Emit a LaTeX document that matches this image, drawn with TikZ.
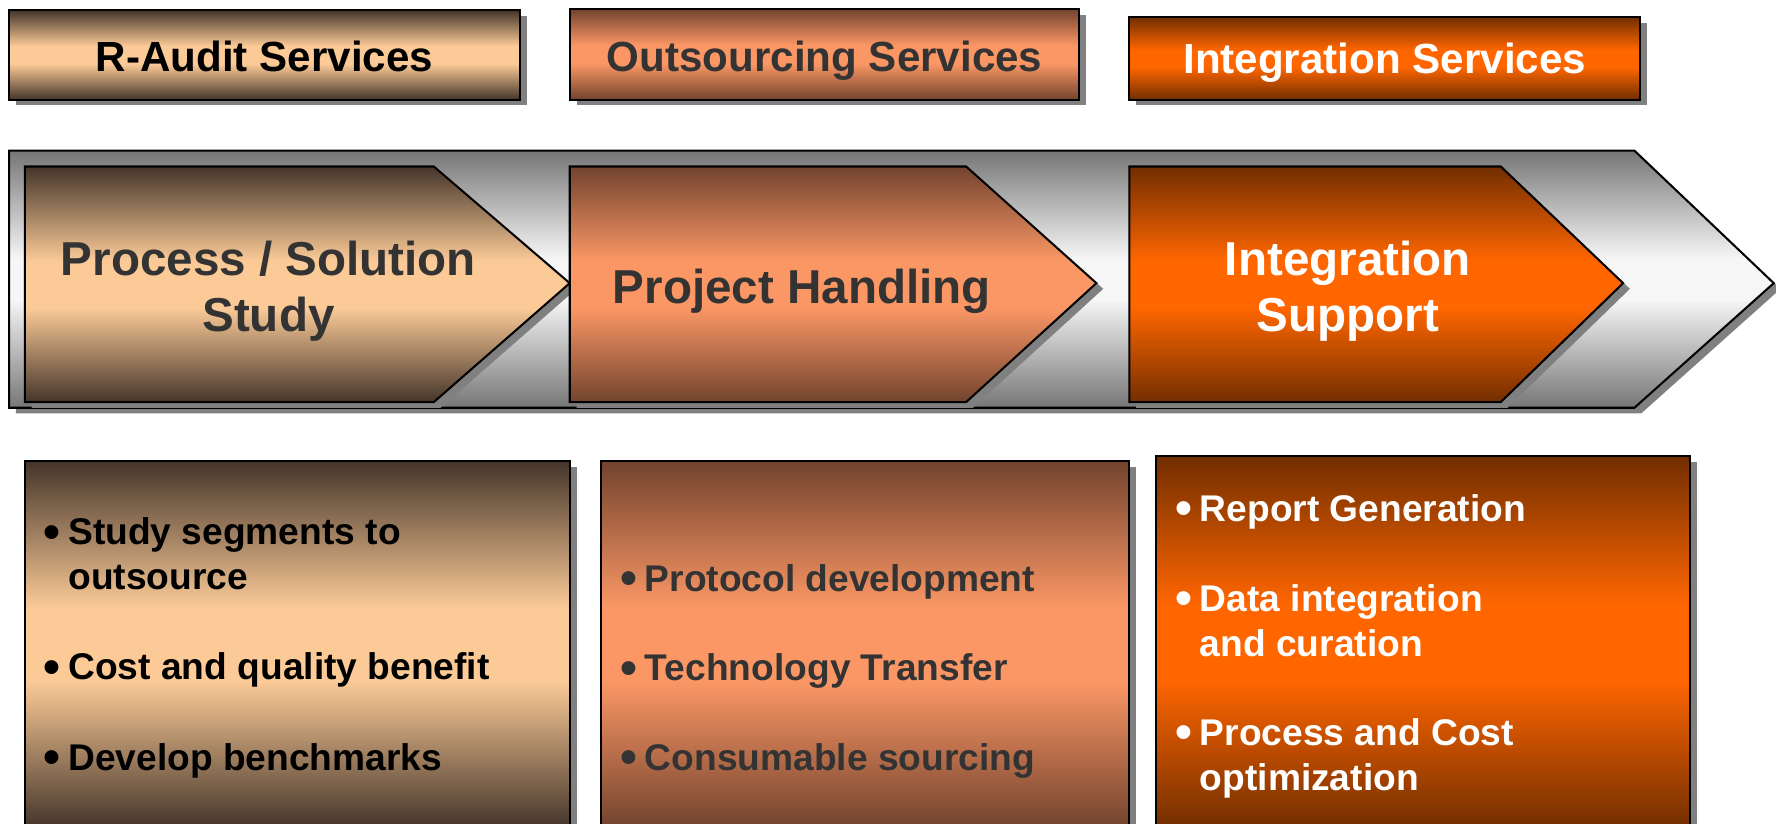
\documentclass[tikz,border=0pt]{standalone}
\usepackage{fontspec}
\setmainfont{Liberation Sans}
\usetikzlibrary{shadows}
\definecolor{raD}{HTML}{44352A}
\definecolor{raL}{HTML}{FBCA97}
\definecolor{osD}{HTML}{72432E}
\definecolor{osL}{HTML}{FB9765}
\definecolor{isD}{HTML}{722E00}
\definecolor{isL}{HTML}{FF6600}
\definecolor{gbD}{HTML}{767676}
\definecolor{gbL}{HTML}{F6F6F6}
\definecolor{shadowgray}{HTML}{808080}
\definecolor{txtgray}{HTML}{333333}
\pgfdeclareverticalshading{shRA}{100bp}{color(0bp)=(raD); color(25bp)=(raD); color(45bp)=(raL); color(55bp)=(raL); color(75bp)=(raD); color(100bp)=(raD)}
\pgfdeclareverticalshading{shOS}{100bp}{color(0bp)=(osD); color(25bp)=(osD); color(45bp)=(osL); color(55bp)=(osL); color(75bp)=(osD); color(100bp)=(osD)}
\pgfdeclareverticalshading{shIS}{100bp}{color(0bp)=(isD); color(25bp)=(isD); color(45bp)=(isL); color(55bp)=(isL); color(75bp)=(isD); color(100bp)=(isD)}
\pgfdeclareverticalshading{shGB}{100bp}{color(0bp)=(gbD); color(25bp)=(gbD); color(46bp)=(gbL); color(54bp)=(gbL); color(75bp)=(gbD); color(100bp)=(gbD)}
\tikzset{
  frame/.style={draw=black, line width=0.9pt, line join=miter},
  shad/.style={general shadow={fill=shadowgray, shadow xshift=3pt, shadow yshift=-2.5pt}},
  hdr/.style={font=\fontsize{18.6}{22}\selectfont\bfseries, inner sep=0pt, anchor=base},
  chev/.style={font=\fontsize{21}{25}\selectfont\bfseries, align=center, inner sep=0pt},
  item/.style={font=\fontsize{16.4}{20}\selectfont\bfseries, align=left, inner sep=0pt, anchor=west},
}
\newcommand{\bul}{\llap{\raisebox{-1.6pt}{\scalebox{1.3}{\textbullet}}\hspace{3.5pt}}}
\begin{document}
\begin{tikzpicture}[x=0.5pt,y=-0.5pt]
\useasboundingbox (0,0) rectangle (1568,727);
% header boxes
\draw[frame, shad, shading=shRA] (8,9) rectangle (459,88);
\draw[frame, shad, shading=shOS] (503,8) rectangle (953,88);
\draw[frame, shad, shading=shIS] (997,15) rectangle (1448,88);
\node[hdr, text=black] (hra) at (233.5,63) {R-Audit Services};
\node[hdr, text=txtgray] (hos) at (728,63) {Outsourcing Services};
\node[hdr, text=white] (his) at (1222.5,65) {Integration Services};
% gray band arrow
\draw[frame, shad, shading=shGB] (8,133) -- (1443,133) -- (1566,250) -- (1443,360) -- (8,360) -- cycle;
% chevrons
\draw[frame, shad, shading=shRA] (22,147) -- (383,147) -- (503,250) -- (383,355) -- (22,355) -- cycle;
\draw[frame, shad, shading=shOS] (503,147) -- (853,147) -- (968,250) -- (853,355) -- (503,355) -- cycle;
\draw[frame, shad, shading=shIS] (997,147) -- (1325,147) -- (1433,250) -- (1325,355) -- (997,355) -- cycle;
\node[chev, text=txtgray] (cps) at (237,257) {Process / Solution\\Study};
\node[chev, text=txtgray, anchor=base] (cph) at (708,268) {Project Handling};
\node[chev, text=white] (cis) at (1190,257) {Integration\\Support};
% bottom boxes
\draw[frame, shad, shading=shRA] (22,407) rectangle (503,731);
\draw[frame, shad, shading=shOS] (531,407) rectangle (997,731);
\draw[frame, shad, shading=shIS] (1021,403) rectangle (1492,731);
\node[item, text=black] (s1) at (60,489) {\bul Study segments to\\outsource};
\node[item, text=black] (s2) at (60,591.5) {\bul Cost and quality benefit};
\node[item, text=black] (s3) at (60,671.5) {\bul Develop benchmarks};
\node[item, text=txtgray] (p1) at (569,513.5) {\bul Protocol development};
\node[item, text=txtgray] (p2) at (569,592.5) {\bul Technology Transfer};
\node[item, text=txtgray] (p3) at (569,671.5) {\bul Consumable sourcing};
\node[item, text=white] (r1) at (1059,451.5) {\bul Report Generation};
\node[item, text=white] (r2) at (1059,548) {\bul Data integration\\and curation};
\node[item, text=white] (r3) at (1059,669.5) {\bul Process and Cost\\optimization};
\end{tikzpicture}
\end{document}
